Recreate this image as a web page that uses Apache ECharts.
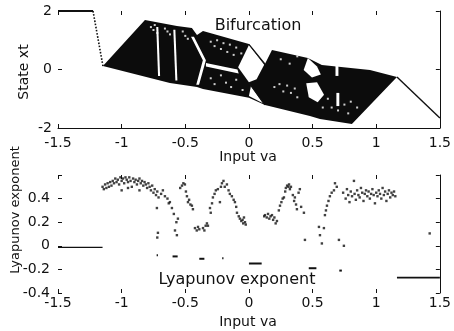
<!DOCTYPE html>
<html>
<head>
<meta charset="utf-8">
<script src="https://cdn.jsdelivr.net/npm/echarts@6.0.0/dist/echarts.min.js"></script>
<style>
  html, body { margin: 0; padding: 0; background: #fff; }
  #chart { width: 454px; height: 331px; }
</style>
</head>
<body>
<div id="chart"></div>
<script>
'use strict';

const FONT = 'DejaVu Sans';
const INK = '#111';

// x axis (input va) shared by both panels
const xMin = -1.5;
const xMax = 1.5;
const xStep = 0.5;

// upper panel: state xt
const stateMin = -2;
const stateMax = 2;
const stateStep = 2;

// lower panel: lyapunov exponent
const lyapMin = -0.4;
const lyapMax = 0.6;
const lyapStep = 0.2;

// bifurcation: filled chaotic band outline [va, xt]
const bandOutline = [
    [-1.147, 0.12], [-0.817, 1.69], [-0.566, 1.49], [-0.448, 1.42], [-0.408, 1.18],
    [-0.361, 1.32], [0.0, 0.87], [0.126, 0.19], [0.181, 0.67], [0.463, 0.39],
    [0.573, 0.15], [0.951, -0.02], [1.163, -0.26], [0.809, -1.86], [0.558, -1.69],
    [0.479, -1.59], [0.126, -1.21], [0.0, -0.97], [-0.361, -0.67], [-0.408, -0.60],
    [-0.621, -0.46]
];

// windows / gaps inside the band
const bandGaps = [
    [[-0.728, 1.45], [-0.712, 1.45], [-0.698, -0.22], [-0.714, -0.22]],
    [[-0.594, 1.36], [-0.578, 1.36], [-0.562, -0.38], [-0.578, -0.38]],
    [[-0.455, 1.12], [-0.432, 1.12], [-0.338, 0.32], [-0.392, -0.52], [-0.414, -0.52], [-0.362, 0.32]],
    [[-0.338, 0.22], [-0.09, 0.0], [-0.08, -0.14], [-0.338, 0.1]],
    [[0.0, 0.84], [0.12, 0.16], [0.06, -0.33], [0.0, -0.44], [-0.085, 0.08]],
    [[0.016, -0.56], [0.11, -1.15], [0.0, -0.91]],
    [[0.463, 0.39], [0.535, 0.1], [0.565, -0.17], [0.495, -0.27], [0.43, -0.02]],
    [[0.45, -0.47], [0.535, -0.44], [0.59, -0.86], [0.54, -1.12], [0.47, -0.95]],
    [[0.68, 0.19], [0.703, 0.19], [0.703, -0.22], [0.68, -0.22]],
    [[0.687, -0.80], [0.71, -0.80], [0.71, -1.25], [0.687, -1.25]]
];

// white specks seen inside the band
const bandSpecks = [
    [-0.77, 1.45], [-0.75, 1.35], [-0.74, 1.52], [-0.72, 1.25], [-0.66, 1.4],
    [-0.64, 1.3], [-0.62, 1.2], [-0.52, 1.3], [-0.50, 1.15], [-0.48, 1.05],
    [-0.3, 0.95], [-0.27, 0.8], [-0.25, 1.0], [-0.22, 0.7], [-0.2, 0.9],
    [-0.17, 0.6], [-0.15, 0.85], [-0.12, 0.5], [-0.1, 0.75], [-0.06, 0.55],
    [-0.3, -0.3], [-0.27, -0.5], [-0.22, -0.2], [-0.18, -0.45], [-0.14, -0.6],
    [-0.1, -0.35], [-0.05, -0.7], [0.2, -0.6], [0.24, -0.5], [0.27, -0.75],
    [0.3, -0.55], [0.33, -0.8], [0.36, -0.65], [0.38, -0.95], [0.25, 0.35],
    [0.32, 0.2], [0.38, 0.45], [0.62, -1.0], [0.65, -1.3], [0.7, -1.4],
    [0.75, -1.2], [0.78, -1.5], [0.58, -1.3], [0.8, -1.1], [0.85, -1.3]
];

const fixedHigh = [[-1.5, 2], [-1.225, 2]];
const jumpDown = [[-1.225, 2], [-1.147, 0.12]];
const exitBranch = [[1.163, -0.26], [1.5, -1.66]];
const upperDiag = [[0.0, 0.86], [0.13, 0.17]];
const lowerDiag = [[0.0, -0.46], [0.126, -1.21]];

// lyapunov exponent estimates [va, lambda]
const lyapPoints = [
    [-1.15, 0.50], [-1.14, 0.48], [-1.13, 0.52], [-1.12, 0.49], [-1.11, 0.53], [-1.10, 0.50],
    [-1.09, 0.54], [-1.08, 0.51], [-1.07, 0.55], [-1.06, 0.53], [-1.05, 0.57], [-1.04, 0.54],
    [-1.03, 0.56], [-1.02, 0.52], [-1.01, 0.58], [-1.00, 0.55], [-0.99, 0.57], [-0.98, 0.53],
    [-0.97, 0.58], [-0.96, 0.56], [-0.95, 0.54], [-0.94, 0.58], [-0.93, 0.55], [-0.92, 0.50],
    [-0.91, 0.57], [-0.90, 0.54], [-0.89, 0.56], [-0.88, 0.52], [-0.87, 0.55], [-0.86, 0.57],
    [-0.85, 0.53], [-0.84, 0.55], [-0.83, 0.51], [-0.82, 0.54], [-0.81, 0.52], [-0.80, 0.49],
    [-0.79, 0.53], [-0.78, 0.50], [-0.77, 0.47], [-0.76, 0.51], [-0.75, 0.45], [-0.74, 0.48],
    [-0.73, 0.43], [-0.72, 0.46], [-0.71, 0.41], [-1.00, 0.47], [-0.95, 0.49], [-0.86, 0.47],
    [-0.723, 0.32], [-0.715, 0.11], [-0.72, 0.07], [-0.69, 0.44], [-0.676, 0.47], [-0.66, 0.42],
    [-0.64, 0.40], [-0.63, 0.36], [-0.621, 0.37], [-0.605, 0.32], [-0.59, 0.27], [-0.581, 0.13],
    [-0.566, 0.09], [-0.558, 0.23], [-0.57, 0.20],
    [-0.54, 0.49], [-0.526, 0.51], [-0.515, 0.53], [-0.503, 0.52], [-0.495, 0.46], [-0.487, 0.42],
    [-0.479, 0.37], [-0.47, 0.39], [-0.46, 0.35], [-0.448, 0.34], [-0.44, 0.31],
    [-0.424, 0.15], [-0.41, 0.13], [-0.40, 0.16], [-0.39, 0.14], [-0.361, 0.15], [-0.35, 0.13],
    [-0.34, 0.17], [-0.322, 0.17], [-0.33, 0.19],
    [-0.306, 0.32], [-0.30, 0.28], [-0.29, 0.36], [-0.283, 0.41], [-0.27, 0.44], [-0.26, 0.47],
    [-0.244, 0.48], [-0.228, 0.37], [-0.22, 0.50], [-0.212, 0.53], [-0.20, 0.55], [-0.19, 0.50],
    [-0.173, 0.52], [-0.16, 0.47], [-0.15, 0.44], [-0.134, 0.42], [-0.12, 0.39], [-0.11, 0.37],
    [-0.10, 0.33], [-0.094, 0.28], [-0.08, 0.25], [-0.071, 0.23], [-0.06, 0.21], [-0.05, 0.22],
    [-0.039, 0.24], [-0.031, 0.20], [-0.025, 0.18], [-0.045, 0.19],
    [0.12, 0.25], [0.126, 0.26], [0.14, 0.24], [0.15, 0.27], [0.16, 0.23], [0.17, 0.25],
    [0.181, 0.26], [0.19, 0.22], [0.2, 0.24], [0.21, 0.19], [0.22, 0.21],
    [0.235, 0.30], [0.244, 0.34], [0.255, 0.37], [0.265, 0.40], [0.275, 0.41], [0.285, 0.46],
    [0.29, 0.49], [0.30, 0.51], [0.31, 0.50], [0.315, 0.52], [0.322, 0.48], [0.33, 0.50],
    [0.345, 0.43], [0.355, 0.38], [0.361, 0.41], [0.37, 0.35], [0.377, 0.31], [0.39, 0.45],
    [0.40, 0.48], [0.41, 0.33], [0.432, 0.28], [0.44, 0.05],
    [0.55, 0.16], [0.558, 0.09], [0.573, 0.02], [0.589, 0.15], [0.597, 0.26], [0.605, 0.30],
    [0.613, 0.34], [0.625, 0.38], [0.636, 0.42], [0.65, 0.45], [0.668, 0.47], [0.676, 0.53],
    [0.69, 0.50], [0.707, 0.05], [0.746, 0.0],
    [0.74, 0.45], [0.76, 0.40], [0.77, 0.48], [0.78, 0.43], [0.79, 0.37], [0.80, 0.46],
    [0.81, 0.42], [0.825, 0.55], [0.83, 0.44], [0.84, 0.39], [0.85, 0.47], [0.86, 0.43],
    [0.87, 0.41], [0.88, 0.49], [0.89, 0.45], [0.90, 0.38], [0.91, 0.44], [0.92, 0.47],
    [0.93, 0.42], [0.94, 0.46], [0.95, 0.40], [0.96, 0.44], [0.97, 0.48], [0.98, 0.43],
    [0.99, 0.36], [1.00, 0.45], [1.01, 0.42], [1.02, 0.47], [1.03, 0.44], [1.04, 0.40],
    [1.05, 0.49], [1.06, 0.43], [1.07, 0.46], [1.08, 0.38], [1.09, 0.44], [1.10, 0.47],
    [1.11, 0.41], [1.12, 0.45], [1.13, 0.43], [1.14, 0.46], [1.15, 0.42], [1.42, 0.105]
];

// periodic windows: [va start, va end, lambda]
const lyapDashes = [
    [-0.725, -0.715, -0.08], [-0.6, -0.56, -0.09], [-0.39, -0.35, -0.11],
    [-0.21, -0.2, -0.105], [0.0, 0.1, -0.15], [0.47, 0.53, -0.19], [0.71, 0.73, -0.21]
];
const lyapLeftFlat = [[-1.5, -0.013], [-1.15, -0.013]];
const lyapRightFlat = [[1.163, -0.27], [1.5, -0.27]];

const tickLabel = { fontSize: 14, fontFamily: FONT, color: INK };

function xAxisOf(grid, position, opts) {
    return {
        gridIndex: grid, type: 'value', position: position,
        min: xMin, max: xMax, interval: xStep,
        axisLine: { show: opts.line, onZero: false, lineStyle: { color: INK, width: 1 } },
        axisTick: { show: true, inside: true, length: 4, lineStyle: { color: INK } },
        axisLabel: opts.label ? Object.assign({ margin: opts.margin }, tickLabel) : { show: false },
        splitLine: { show: false }
    };
}

function yAxisOf(grid, position, min, max, step, opts) {
    return {
        gridIndex: grid, type: 'value', position: position,
        min: min, max: max, interval: step,
        axisLine: { show: opts.line, onZero: false, lineStyle: { color: INK, width: 1 } },
        axisTick: { show: true, inside: true, length: 4, lineStyle: { color: INK } },
        axisLabel: opts.label
            ? Object.assign({ margin: opts.margin, formatter: opts.formatter }, tickLabel)
            : { show: false },
        splitLine: { show: false }
    };
}

function polygons(shapes, fill) {
    return {
        type: 'custom', xAxisIndex: 0, yAxisIndex: 0,
        silent: true,
        data: shapes.map(s => s[0]),
        renderItem: function (params, api) {
            const pts = shapes[params.dataIndex].map(p => api.coord(p));
            return { type: 'polygon', shape: { points: pts }, style: { fill: fill } };
        }
    };
}

function segment(data, xi, yi, width, type) {
    return {
        type: 'line', xAxisIndex: xi, yAxisIndex: yi,
        data: data, showSymbol: false, silent: true,
        lineStyle: { color: INK, width: width, type: type || 'solid' }
    };
}

const chart = echarts.init(document.getElementById('chart'));

const series = [
    polygons([bandOutline], '#0c0c0c'),
    polygons(bandGaps, '#ffffff'),
    {
        type: 'scatter', xAxisIndex: 0, yAxisIndex: 0, silent: true,
        data: bandSpecks, symbol: 'rect', symbolSize: 2,
        itemStyle: { color: '#ffffff' }
    },
    segment(fixedHigh, 0, 0, 2),
    segment(jumpDown, 0, 0, 1.6, 'dotted'),
    segment(exitBranch, 0, 0, 1.4),
    segment(upperDiag, 0, 0, 1.2),
    segment(lowerDiag, 0, 0, 1.2),
    {
        type: 'scatter', xAxisIndex: 2, yAxisIndex: 2, silent: true,
        data: lyapPoints, symbol: 'rect', symbolSize: 2.4,
        itemStyle: { color: INK }
    },
    segment(lyapLeftFlat, 2, 2, 1.4),
    segment(lyapRightFlat, 2, 2, 1.6)
];
lyapDashes.forEach(d => {
    series.push(segment([[d[0], d[2]], [d[1], d[2]]], 2, 2, 2));
});

const option = {
    animation: false,
    backgroundColor: '#ffffff',
    grid: [
        { left: 58, right: 14, top: 11, height: 117 },
        { left: 58, right: 14, top: 175, height: 118 }
    ],
    xAxis: [
        xAxisOf(0, 'bottom', { line: true, label: true, margin: 8 }),
        xAxisOf(0, 'top', { line: false, label: false }),
        xAxisOf(1, 'bottom', { line: false, label: true, margin: 3 }),
        xAxisOf(1, 'top', { line: false, label: false })
    ],
    yAxis: [
        yAxisOf(0, 'left', stateMin, stateMax, stateStep, { line: false, label: true, margin: 6 }),
        yAxisOf(0, 'right', stateMin, stateMax, stateStep, { line: true, label: false }),
        yAxisOf(1, 'left', lyapMin, lyapMax, lyapStep, {
            line: false, label: true, margin: 8,
            formatter: v => (v > 0.5 ? '' : String(Math.round(v * 10) / 10))
        }),
        yAxisOf(1, 'right', lyapMin, lyapMax, lyapStep, { line: true, label: false })
    ],
    graphic: [
        { type: 'text', x: 258, y: 26, style: { text: 'Bifurcation', font: '16px "DejaVu Sans"', fill: INK, align: 'center', verticalAlign: 'middle' } },
        { type: 'text', x: 237, y: 280, style: { text: 'Lyapunov exponent', font: '16px "DejaVu Sans"', fill: INK, align: 'center', verticalAlign: 'middle' } },
        { type: 'text', x: 248, y: 157, style: { text: 'Input va', font: '14px "DejaVu Sans"', fill: INK, align: 'center', verticalAlign: 'middle' } },
        { type: 'text', x: 248, y: 322, style: { text: 'Input va', font: '14px "DejaVu Sans"', fill: INK, align: 'center', verticalAlign: 'middle' } },
        { type: 'text', x: 24, y: 72, rotation: Math.PI / 2, style: { text: 'State xt', font: '14px "DejaVu Sans"', fill: INK, align: 'center', verticalAlign: 'middle' } },
        { type: 'text', x: 16, y: 210, rotation: Math.PI / 2, style: { text: 'Lyapunov exponent', font: '13px "DejaVu Sans"', fill: INK, align: 'center', verticalAlign: 'middle' } }
    ],
    series: series
};

chart.setOption(option);
</script>
</body>
</html>
